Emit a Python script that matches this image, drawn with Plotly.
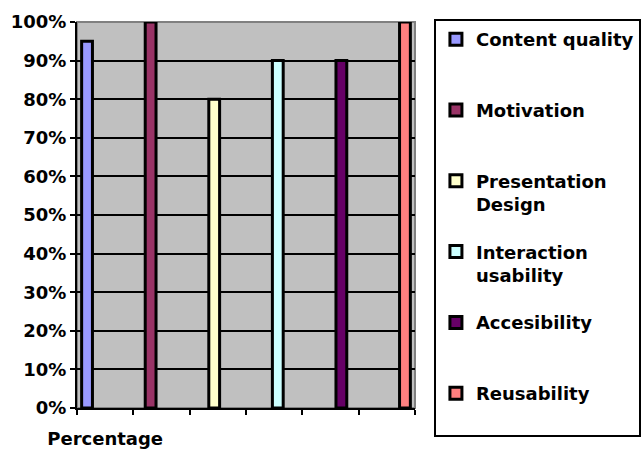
import plotly.graph_objects as go

category = ["Percentage"]
series_names = ["Content quality", "Motivation", "Presentation<br>Design",
                "Interaction<br>usability", "Accesibility", "Reusability"]
series_values = [0.95, 1.00, 0.80, 0.90, 0.90, 1.00]
series_colors = ["#9999FF", "#993366", "#FFFFCC", "#CCFFFF", "#660066", "#FF8080"]
y_ticks = [0, 0.1, 0.2, 0.3, 0.4, 0.5, 0.6, 0.7, 0.8, 0.9, 1.0]

FONT = "DejaVu Sans"

fig = go.Figure()
for i, (name, val, col) in enumerate(zip(series_names, series_values, series_colors)):
    label = name if "<br>" in name else name + "<br> "
    fig.add_trace(go.Bar(
        x=category, y=[val], name=label, legendgroup=f"g{i}",
        marker=dict(color=col, line=dict(color="black", width=3)),
    ))

# empty helper trace so that the tick axis (x2) is drawn
fig.add_trace(go.Scatter(x=[], y=[], xaxis="x2", yaxis="y", showlegend=False,
                         hoverinfo="skip"))

fig.update_layout(
    width=641, height=449,
    margin=dict(l=77, r=226, t=22, b=41, autoexpand=False),
    paper_bgcolor="white", plot_bgcolor="#C0C0C0",
    barmode="group", bargap=0, bargroupgap=0.83,
    font=dict(family=FONT, size=17, color="black", weight="bold"),
    showlegend=True,
    legend=dict(
        x=1.056, y=1.0078, xanchor="left", yanchor="top",
        bordercolor="black", borderwidth=2, bgcolor="white",
        valign="top", tracegroupgap=21, maxheight=445,
        font=dict(family=FONT, size=18, color="black", weight="bold"),
    ),
    xaxis=dict(type="category", range=[-0.443, 0.443], showticklabels=False,
               showgrid=False, zeroline=False, showline=False, ticks=""),
    xaxis2=dict(overlaying="x", anchor="y", range=[0, 6], showgrid=False, zeroline=False,
                showline=True, linecolor="black", linewidth=2,
                tickmode="array", tickvals=[0.5], ticktext=category, ticks="",
                ticklabelstandoff=13,
                minor=dict(tickmode="linear", tick0=0, dtick=1, ticks="outside",
                           ticklen=5, tickwidth=2, tickcolor="black", showgrid=False),
                tickfont=dict(family=FONT, size=18, color="black", weight="bold")),
    yaxis=dict(range=[0, 1], tickvals=y_ticks, tickformat=".0%",
               showgrid=True, gridcolor="black", gridwidth=2, zeroline=False,
               showline=True, linecolor="black", linewidth=2,
               ticks="outside", ticklen=5, tickwidth=2, tickcolor="black",
               tickfont=dict(family=FONT, size=18, color="black", weight="bold")),
    shapes=[dict(type="rect", xref="paper", yref="paper", x0=0, x1=1, y0=0, y1=1,
                 line=dict(color="#808080", width=2), layer="below")],
)

fig.write_html("out.html")
